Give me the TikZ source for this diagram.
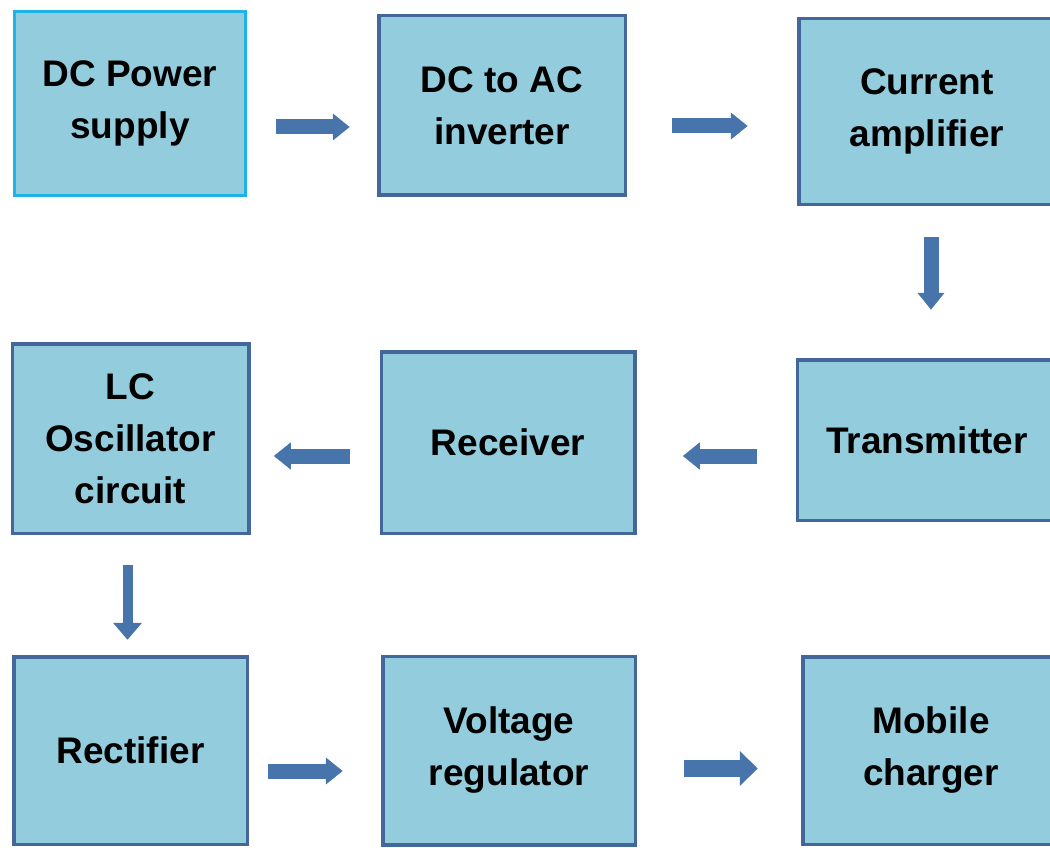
\documentclass[tikz,border=0pt]{standalone}
\usepackage{fontspec}
\setmainfont{Liberation Sans}
\usepackage{tikz}
\usetikzlibrary{arrows.meta, positioning, calc}
\usepackage{xcolor}
\definecolor{boxfill}{HTML}{93CDDD}
\definecolor{boxline}{HTML}{43679A}
\definecolor{startline}{HTML}{1DB4EA}
\definecolor{arrowblue}{HTML}{4874AC}

\begin{document}
\begin{tikzpicture}[
    block/.style={
        rectangle, draw=boxline, line width=3.5pt,
        fill=boxfill, align=center, text=black,
        font=\fontsize{37}{52}\selectfont\bfseries,
        inner sep=0pt, outer sep=0pt
    },
    first/.style={
        block, draw=startline, line width=3pt
    },
    barr/.style={line width=15pt, arrowblue,
        -{Triangle[length=17pt, width=26pt]}},
]
\useasboundingbox (0,0) rectangle (1050pt,-848pt);
\clip (0,0) rectangle (1050pt,-848pt);

% ── First row ──────
\node[first, minimum width=231pt, minimum height=184pt] (dc) at (130pt,-103.5pt) {DC Power\\supply};
\node[block, minimum width=246.5pt, minimum height=179.5pt, right=133.25pt of dc, yshift=-2pt] (inv) {DC to AC\\inverter};
\node[block, minimum width=256.5pt, minimum height=185.5pt, right=173.5pt of inv, yshift=-6pt] (amp) {Current\\amplifier};

% ── Second row ──────
\node[block, minimum width=259.5pt, minimum height=160.5pt, below=155.5pt of amp] (tx) {Transmitter};
\node[block, minimum width=253.5pt, minimum height=181.5pt, left=162.5pt of tx, yshift=-2.5pt] (rec) {Receiver};
\node[block, minimum width=236.5pt, minimum height=189.5pt, left=132.5pt of rec, yshift=4pt] (lc) {LC\\Oscillator\\circuit};

% ── Third row ──────
\node[block, minimum width=233.5pt, minimum height=187.5pt, below=123.5pt of lc] (rect) {Rectifier};
\node[block, minimum width=252.5pt, minimum height=188.5pt, right=135.5pt of rect] (vreg) {Voltage\\regulator};
\node[block, minimum width=256.5pt, minimum height=187.5pt, right=167.5pt of vreg] (mob) {Mobile\\charger};

% ── Arrows ──────
\draw[barr, shorten <=30pt, shorten >=29pt, transform canvas={yshift=-23.5pt}] (dc.east) -- (dc.east -| inv.west);
\draw[barr, shorten <=47pt, shorten >=51pt, transform canvas={yshift=-20.5pt}] (inv.east) -- (inv.east -| amp.west);
\draw[barr, shorten <=33pt, shorten >=50pt, transform canvas={xshift=4pt}] (amp.south) -- (amp.south |- tx.north);
\draw[barr, shorten <=40pt, shorten >=48pt, transform canvas={yshift=-16pt}] (tx.west) -- (tx.west -| rec.east);
\draw[barr, shorten <=31pt, shorten >=25pt, transform canvas={yshift=-13.5pt}] (rec.west) -- (rec.west -| lc.east);
\draw[barr, line width=10pt, -{Triangle[length=17pt, width=28pt]}, shorten <=32pt, shorten >=17pt, transform canvas={xshift=-3pt}] (lc.south) -- (lc.south |- rect.north);
\draw[barr, shorten <=21pt, shorten >=40pt, transform canvas={yshift=-20.5pt}] (rect.east) -- (rect.east -| vreg.west);
\draw[barr, line width=17pt, -{Triangle[length=18pt, width=34pt]}, shorten <=49pt, shorten >=45pt, transform canvas={yshift=-18pt}] (vreg.east) -- (vreg.east -| mob.west);

\end{tikzpicture}
\end{document}
